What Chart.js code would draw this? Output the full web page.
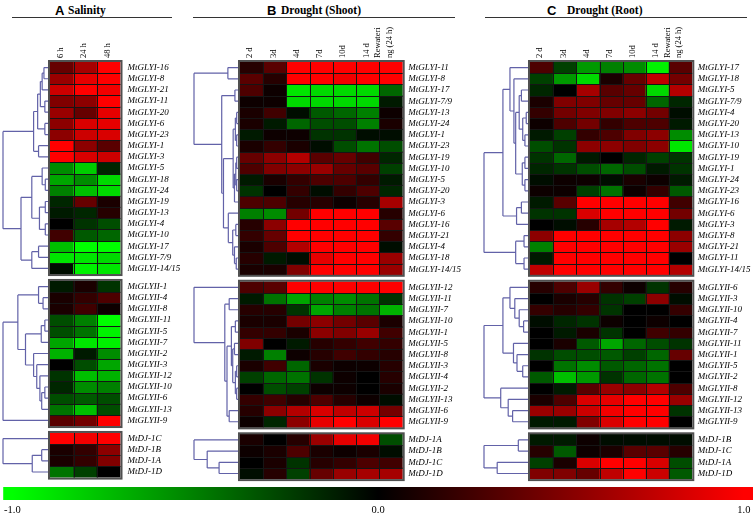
<!DOCTYPE html>
<html><head><meta charset="utf-8">
<script src="https://cdn.jsdelivr.net/npm/chart.js@4.4.1/dist/chart.umd.min.js"></script>
<style>
html,body{margin:0;padding:0;background:#fff;}
#wrap{position:relative;width:756px;height:518px;overflow:hidden;background:#fff;}
canvas{position:absolute;}
.ttl{position:absolute;white-space:nowrap;color:#000;line-height:1;}
.let{font:bold 13px "Liberation Sans",Arial,sans-serif;}
.word{font:bold 11.5px "Liberation Serif","Times New Roman",serif;}
.rule{position:absolute;height:0;border-top:1px solid #333;}
</style></head><body>
<div id="wrap">
  <div class="ttl let" style="left:55px;top:3px">A</div>
  <div class="ttl word" style="left:68px;top:4.4px">Salinity</div>
  <div class="ttl let" style="left:267px;top:3px">B</div>
  <div class="ttl word" style="left:281px;top:4.4px">Drought (Shoot)</div>
  <div class="ttl let" style="left:547px;top:3px">C</div>
  <div class="ttl word" style="left:567px;top:4.4px">Drought (Root)</div>
  <div class="rule" style="left:12px;top:17px;width:160px"></div>
  <div class="rule" style="left:193px;top:17px;width:262px"></div>
  <div class="rule" style="left:485px;top:17px;width:262px"></div>
  <canvas id="cA" width="190" height="490" style="left:0;top:0"></canvas>
  <canvas id="cB" width="280" height="490" style="left:190px;top:0"></canvas>
  <canvas id="cC" width="278" height="490" style="left:478px;top:0"></canvas>
  <canvas id="cBar" width="756" height="38" style="left:0;top:480px"></canvas>
</div>
<script>
// ---------- column labels ----------
const colsSalinity = ['6 h', '24 h', '48 h'];
const colsDrought = ['2 d', '3d', '4d', '7d', '10d', '14 d', ['Rewateri', 'ng (24 h)']];

// ---------- Panel A: Salinity ----------
const genesA1 = ['MtGLYI-16','MtGLYI-8','MtGLYI-21','MtGLYI-11','MtGLYI-20','MtGLYI-6','MtGLYI-23','MtGLYI-1','MtGLYI-3','MtGLYI-5','MtGLYI-18','MtGLYI-24','MtGLYI-19','MtGLYI-13','MtGLYI-4','MtGLYI-10','MtGLYI-17','MtGLYI-7/9','MtGLYI-14/15'];
const valuesA1 = [
  [0.4,0.65,1.0],[0.6,0.9,1.0],[0.8,1.0,0.95],[0.5,0.55,1.0],[0.6,0.4,0.9],
  [0.55,0.85,0.9],[0.55,0.8,0.85],[1.0,0.55,0.35],[1.0,0.85,0.8],[-0.55,-0.8,-0.15],
  [-0.65,-0.55,-0.85],[-0.5,-0.75,-0.85],[-0.15,0.4,0.1],[-0.1,-0.15,0.15],[0.0,-0.2,-0.3],
  [0.25,-0.35,-0.4],[-0.75,-1.0,-1.0],[-0.9,-0.9,-0.85],[-0.05,-0.95,-0.9]
];
const genesA2 = ['MtGLYII-1','MtGLYII-4','MtGLYII-8','MtGLYII-11','MtGLYII-5','MtGLYII-7','MtGLYII-2','MtGLYII-3','MtGLYII-12','MtGLYII-10','MtGLYII-6','MtGLYII-13','MtGLYII-9'];
const valuesA2 = [
  [-0.1,0.1,-0.2],[0.1,0.2,0.3],[0.1,0.25,0.05],[-0.3,-0.5,-1.0],[-0.3,-0.45,-0.95],
  [-0.65,-0.9,-0.95],[-0.7,-0.1,-0.55],[0.0,-0.3,-0.65],[-0.2,-0.75,-0.7],[-0.15,-0.55,-0.5],
  [-0.3,-0.35,-0.3],[-0.45,-0.75,-0.3],[0.35,0.45,1.0]
];
const genesA3 = ['MtDJ-1C','MtDJ-1B','MtDJ-1A','MtDJ-1D'];
const valuesA3 = [[1.0,0.95,1.0],[0.1,0.2,0.55],[0.1,0.2,0.5],[-0.45,-0.25,0.0]];

// ---------- Panel B: Drought (Shoot) ----------
const genesB1 = ['MtGLYI-11','MtGLYI-8','MtGLYI-17','MtGLYI-7/9','MtGLYI-13','MtGLYI-24','MtGLYI-1','MtGLYI-23','MtGLYI-19','MtGLYI-10','MtGLYI-5','MtGLYI-20','MtGLYI-3','MtGLYI-6','MtGLYI-16','MtGLYI-21','MtGLYI-4','MtGLYI-18','MtGLYI-14/15'];
const valuesB1 = [
  [0.15,0.35,1,1,1,1,1],[0.35,0.15,1,1,0.95,1,1],[0.3,0.05,-0.9,-0.85,-0.85,-0.85,-0.4],
  [0.05,0.05,-0.85,-0.85,-0.85,-0.85,-0.1],[0.1,0.25,-0.05,-0.35,-0.4,-0.5,0.05],
  [0.1,-0.1,-0.4,-0.3,-0.3,-0.5,0.1],[-0.1,0.05,0.05,-0.2,-0.2,-0.05,-0.05],
  [0.1,0.2,0.1,-0.05,-0.3,-0.45,-0.3],[0.4,0.55,0.7,0.35,0.4,0.25,-0.15],
  [0.3,0.5,0.55,0.6,0.4,0.35,-0.25],[-0.1,0.1,0.2,0.3,0.3,0.2,-0.1],
  [-0.2,0.0,0.2,-0.05,0.2,0.3,-0.15],[0.3,0.3,0.15,0.15,0.05,0.15,0.65],
  [-0.5,-0.55,0.45,1,1,1,0.15],[0.15,0.55,1,1,1,1,0.35],[0.2,0.4,1,1,1,1,0.2],
  [0.1,0.3,0.7,1,1,1,-0.05],[0.15,-0.1,-0.05,0.9,1,1,0.6],[0.1,0.1,0.5,1,1,1,0.6]
];
const genesB2 = ['MtGLYII-12','MtGLYII-11','MtGLYII-7','MtGLYII-10','MtGLYII-1','MtGLYII-5','MtGLYII-8','MtGLYII-3','MtGLYII-4','MtGLYII-2','MtGLYII-13','MtGLYII-6','MtGLYII-9'];
const valuesB2 = [
  [0.3,0.35,1,1,1,1,1],[-0.1,-0.45,-0.65,-0.5,-0.55,-0.45,-0.2],[0.15,0.15,-0.2,-0.65,-0.5,-0.45,-0.7],
  [0.1,0.1,0.45,0.55,0.45,0.35,0.1],[0.2,0.2,0.1,0.55,0.5,0.6,0.25],[0.5,0.0,-0.1,0.15,0.2,0.25,0.2],
  [-0.1,-0.5,0.05,0.15,0.25,0.2,0.15],[0.1,0.25,-0.4,0.1,0.05,0.05,0.15],[-0.25,-0.4,-0.45,-0.2,0.05,0.0,0.15],
  [0.0,-0.3,-0.25,0.05,0.05,0.0,0.1],[0.2,0.25,0.15,0.3,0.15,0.05,-0.05],[0.15,0.55,0.7,0.85,0.75,0.8,0.45],
  [0.05,-0.15,0.55,0.9,1,0.85,1]
];
const genesB3 = ['MtDJ-1A','MtDJ-1B','MtDJ-1C','MtDJ-1D'];
const valuesB3 = [
  [0.1,0.0,0.15,0.6,0.9,0.95,-0.3],[0.05,0.1,0.3,0.1,0.05,0.1,-0.05],
  [0.0,0.1,-0.2,0.15,0.2,0.3,0.25],[-0.05,0.15,-0.25,0.4,0.6,0.65,0.65]
];

// ---------- Panel C: Drought (Root) ----------
const genesC1 = ['MtGLYI-17','MtGLYI-18','MtGLYI-5','MtGLYI-7/9','MtGLYI-4','MtGLYI-20','MtGLYI-13','MtGLYI-10','MtGLYI-19','MtGLYI-1','MtGLYI-24','MtGLYI-23','MtGLYI-16','MtGLYI-6','MtGLYI-3','MtGLYI-8','MtGLYI-21','MtGLYI-11','MtGLYI-14/15'];
const valuesC1 = [
  [0.3,-0.25,-0.6,-0.5,-0.55,-0.95,0.35],[-0.25,-0.6,-0.85,0.1,0.4,0.75,0.45],
  [-0.15,0.0,0.65,0.35,0.4,-0.85,0.7],[0.1,0.5,0.5,0.4,0.4,-0.4,-0.15],
  [0.2,0.45,0.5,0.5,0.55,0.45,-0.05],[0.05,0.3,0.45,0.2,0.3,0.3,-0.1],
  [-0.1,-0.25,0.2,0.3,0.5,0.55,-0.55],[-0.3,-0.2,0.55,0.55,0.5,0.55,-0.9],
  [-0.2,-0.4,-0.1,0.0,-0.15,-0.25,-0.2],[-0.15,-0.2,-0.3,-0.4,-0.3,-0.1,-0.2],
  [-0.05,0.05,0.05,-0.05,0.1,0.05,-0.1],[0.05,0.05,-0.25,-0.45,0.05,0.2,-0.35],
  [-0.1,0.35,1,1,1,1,0.25],[-0.2,-0.2,0.85,1,1,1,0.45],[0.0,-0.05,0.15,0.65,0.7,1,-0.1],
  [0.55,1,1,1,1,1,0.55],[-0.5,1,1,1,1,1,0.6],[-0.1,1,1,1,1,1,0.0],[0.75,1,1,1,1,1,0.7]
];
const genesC2 = ['MtGLYII-6','MtGLYII-3','MtGLYII-10','MtGLYII-4','MtGLYII-7','MtGLYII-11','MtGLYII-1','MtGLYII-5','MtGLYII-2','MtGLYII-8','MtGLYII-12','MtGLYII-13','MtGLYII-9'];
const valuesC2 = [
  [0.15,0.3,0.6,0.2,0.05,-0.2,0.15],[0.0,0.1,0.15,-0.2,-0.25,0.55,-0.05],
  [0.2,0.15,0.2,-0.2,0.0,0.0,0.2],[-0.05,-0.15,-0.2,0.05,0.0,0.05,0.0],
  [0.0,-0.1,0.1,-0.2,0.0,0.25,0.2],[0.0,0.1,-0.35,-0.65,-0.4,-0.3,-0.2],
  [-0.2,-0.3,-0.3,-0.35,-0.25,-0.4,0.4],[0.0,-0.45,-0.55,-0.35,-0.4,-0.45,0.0],
  [-0.35,-0.75,-0.6,-0.2,-0.4,-0.45,0.0],[0.0,-0.1,0.35,0.6,0.55,0.7,0.3],
  [0.1,0.3,0.85,0.9,1,1,0.6],[0.6,0.6,0.8,0.95,1,1,-0.2],[-0.1,-0.1,0.5,0.85,1,1,0.0]
];
const genesC3 = ['MtDJ-1B','MtDJ-1C','MtDJ-1A','MtDJ-1D'];
const valuesC3 = [
  [-0.1,-0.1,0.05,-0.05,-0.05,-0.05,-0.05],[0.15,-0.35,0.05,0.1,0.35,0.35,0.15],
  [-0.25,0.1,0.85,1,1,0.85,-0.3],[0.5,0.5,0.4,0.75,1,0.8,-0.35]
];

// ---------- cluster trees: [mergeHeight(0..1), left, right], leaves = row index in block ----------
const treeA1 = [1.0, [0.32, [0.23, [0.17, [0.13, [0.09, 0, 1], 2], [0.07, 3, 4]], [0.07, 5, 6]], [0.21, 7, 8]],
  [0.6, [0.36, [0.13, 9, [0.06, 10, 11]], [0.19, [0.06, 12, 13], [0.06, 14, 15]]], [0.36, [0.21, 16, 17], 18]]];
const treeA2 = [1.0, [0.67, [0.21, 0, [0.11, 1, 2]], [0.5, [0.15, [0.07, 3, 4], 5], [0.32, 6, [0.25, 7, [0.18, 8, [0.14, [0.07, 9, 10], 11]]]]]], 12];
const treeA3 = [1.0, 0, [0.35, [0.14, 1, 2], 3]];
const treeB1 = [1.0, [0.23, 0, 1], [0.37, [0.07, 2, 3], [0.33, [0.11, [0.06, [0.03, 4, 5], [0.03, 6, 7]], [0.08, [0.05, [0.03, 8, 9], [0.03, 10, 11]], 12]],
  [0.22, 13, [0.12, [0.05, 14, 15], [0.08, 16, [0.04, 17, 18]]]]]]];
const treeB2 = [1.0, 0, [0.3, [0.2, 1, 2], [0.25, [0.15, [0.06, 3, 4], [0.12, [0.08, 5, 6], [0.06, [0.03, 7, 8], [0.03, 9, 10]]]], [0.2, 11, 12]]]];
const treeB3 = [1.0, 0, [0.7, 1, [0.43, 2, 3]]];
const treeC1 = [1.0, [0.57, [0.41, 0, [0.32, 1, [0.28, [0.2, [0.15, 2, 3], [0.12, [0.04, 4, 5], [0.07, 6, 7]]], [0.13, [0.07, 8, 9], [0.07, 10, 11]]]]], [0.26, [0.15, 12, 13], 14]],
  [0.28, [0.09, 15, 16], [0.09, 17, 18]]];
const treeC2 = [1.0, [0.57, [0.41, 0, [0.3, 1, [0.2, 2, [0.1, 3, 4]]]], [0.33, 5, [0.25, 6, [0.12, 7, 8]]]], [0.62, 9, [0.45, 10, [0.35, 11, 12]]]];
const treeC3 = [1.0, [0.22, 0, 1], [0.7, 2, 3]];

// ---------- colour bar ----------
const colorbarRange = [-1.025, 1.025];
const colorbarTicks = [-1, 0, 1];

// ====================================================================
const SERIF = '"Liberation Serif","Times New Roman",serif';
function heatColor(v) {
  return v >= 0 ? `rgb(${Math.round(255 * v)},0,0)` : `rgb(0,${Math.round(-255 * v)},0)`;
}

function buildPanel(id, cols, blocks, trees, lay) {
  const gap = 0.62;
  const positions = [], names = {}, datasets = [], blockInfo = [];
  let start = 0;
  blocks.forEach((b, bi) => {
    const base = start;
    blockInfo.push({ start: base, n: b.genes.length, tree: trees[bi] });
    b.genes.forEach((g, i) => {
      const p = base + i;
      positions.push(p);
      names[p.toFixed(3)] = g;
      datasets.push({
        label: g,
        data: cols.map(() => [p - 0.5, p + 0.5]),
        backgroundColor: b.values[i].map(heatColor),
        borderWidth: 0,
        grouped: false,
        barPercentage: 1,
        categoryPercentage: 1
      });
    });
    start = base + b.genes.length + gap;
  });
  const ymax = start - gap - 0.5;

  const deco = {
    id: 'deco_' + id,
    afterDatasetsDraw(chart) {
      const { ctx, chartArea, scales: { x, y } } = chart;
      const ncol = cols.length;
      const left = chartArea.left, right = chartArea.right;
      const W = lay.dendroWidth;
      blockInfo.forEach(b => {
        const top = y.getPixelForValue(b.start - 0.5);
        const bot = y.getPixelForValue(b.start + b.n - 0.5);
        ctx.save();
        ctx.strokeStyle = '#151515';
        ctx.lineWidth = 1;
        ctx.beginPath();
        for (let i = 1; i < b.n; i++) {
          const yy = Math.round(y.getPixelForValue(b.start + i - 0.5)) + 0.5;
          ctx.moveTo(left, yy); ctx.lineTo(right, yy);
        }
        for (let j = 1; j < ncol; j++) {
          const xx = Math.round((x.getPixelForValue(j - 1) + x.getPixelForValue(j)) / 2) + 0.5;
          ctx.moveTo(xx, top); ctx.lineTo(xx, bot);
        }
        ctx.stroke();
        ctx.strokeStyle = '#505050';
        ctx.lineWidth = 2;
        ctx.strokeRect(left - 1, top - 1, right - left + 2, bot - top + 2);
        // dendrogram
        ctx.strokeStyle = 'rgb(98,98,168)';
        ctx.lineWidth = 1.2;
        ctx.beginPath();
        const draw = (node) => {
          if (typeof node === 'number') {
            return { x: left - 2, y: y.getPixelForValue(b.start + node) };
          }
          const a = draw(node[1]), c = draw(node[2]);
          const nx = left - 2 - node[0] * W;
          ctx.moveTo(nx, a.y); ctx.lineTo(nx, c.y);
          ctx.moveTo(nx, a.y); ctx.lineTo(a.x, a.y);
          ctx.moveTo(nx, c.y); ctx.lineTo(c.x, c.y);
          return { x: nx, y: (a.y + c.y) / 2 };
        };
        draw(b.tree);
        ctx.stroke();
        ctx.restore();
      });
    }
  };

  new Chart(document.getElementById(id), {
    type: 'bar',
    data: { labels: cols, datasets },
    plugins: [deco],
    options: {
      responsive: false,
      animation: false,
      layout: { padding: { left: lay.padLeft, top: 0, right: 0, bottom: lay.padBottom } },
      plugins: { legend: { display: false }, tooltip: { enabled: false } },
      scales: {
        x: {
          type: 'category',
          position: 'top',
          offset: true,
          grid: { display: false, drawTicks: false },
          border: { display: false },
          afterFit: s => { s.height = lay.topHeight; },
          ticks: {
            autoSkip: false, minRotation: 90, maxRotation: 90,
            padding: 4, labelOffset: 10, color: '#000',
            font: { family: SERIF, size: 8.5, lineHeight: 1.35 }
          }
        },
        y: {
          type: 'linear',
          position: 'right',
          reverse: true,
          min: -0.5,
          max: ymax,
          grid: { display: false, drawTicks: false },
          border: { display: false },
          afterBuildTicks: s => { s.ticks = positions.map(v => ({ value: v })); },
          afterFit: s => { s.width = lay.labelWidth; },
          ticks: {
            autoSkip: false,
            padding: lay.labelPad,
            color: '#000',
            font: { family: SERIF, size: 9, style: 'italic' },
            callback: v => names[Number(v).toFixed(3)] || ''
          }
        }
      }
    }
  });
}

buildPanel('cA', colsSalinity,
  [{ genes: genesA1, values: valuesA1 }, { genes: genesA2, values: valuesA2 }, { genes: genesA3, values: valuesA3 }],
  [treeA1, treeA2, treeA3],
  { padLeft: 50, padBottom: 9, topHeight: 62, labelWidth: 69.5, labelPad: 7, dendroWidth: 45 });
buildPanel('cB', colsDrought,
  [{ genes: genesB1, values: valuesB1 }, { genes: genesB2, values: valuesB2 }, { genes: genesB3, values: valuesB3 }],
  [treeB1, treeB2, treeB3],
  { padLeft: 50, padBottom: 9, topHeight: 62, labelWidth: 67.3, labelPad: 5.5, dendroWidth: 44 });
buildPanel('cC', colsDrought,
  [{ genes: genesC1, values: valuesC1 }, { genes: genesC2, values: valuesC2 }, { genes: genesC3, values: valuesC3 }],
  [treeC1, treeC2, treeC3],
  { padLeft: 52, padBottom: 9, topHeight: 62, labelWidth: 63.7, labelPad: 5.5, dendroWidth: 44 });

// colour bar
new Chart(document.getElementById('cBar'), {
  type: 'bar',
  data: {
    labels: [''],
    datasets: [{
      data: [colorbarRange],
      borderWidth: 0,
      barPercentage: 1,
      categoryPercentage: 1,
      backgroundColor: (c) => {
        const ch = c.chart, xs = ch.scales.x;
        if (!xs || !ch.chartArea) return '#000';
        const g = ch.ctx.createLinearGradient(xs.getPixelForValue(-1), 0, xs.getPixelForValue(1), 0);
        g.addColorStop(0, 'rgb(0,255,0)');
        g.addColorStop(0.5, 'rgb(0,0,0)');
        g.addColorStop(1, 'rgb(255,0,0)');
        return g;
      }
    }]
  },
  options: {
    indexAxis: 'y',
    responsive: false,
    animation: false,
    layout: { padding: { left: 3, right: 3, top: 7, bottom: 0 } },
    plugins: { legend: { display: false }, tooltip: { enabled: false } },
    scales: {
      y: { display: false },
      x: {
        type: 'linear',
        min: colorbarRange[0], max: colorbarRange[1],
        grid: { display: false, drawTicks: false },
        border: { display: false },
        afterBuildTicks: s => { s.ticks = colorbarTicks.map(v => ({ value: v })); },
        afterFit: s => { s.height = 18; },
        ticks: {
          autoSkip: false, maxRotation: 0, padding: 4, color: '#000',
          font: { family: SERIF, size: 10.5 },
          callback: v => Number(v).toFixed(1)
        }
      }
    }
  }
});
</script>
</body></html>
